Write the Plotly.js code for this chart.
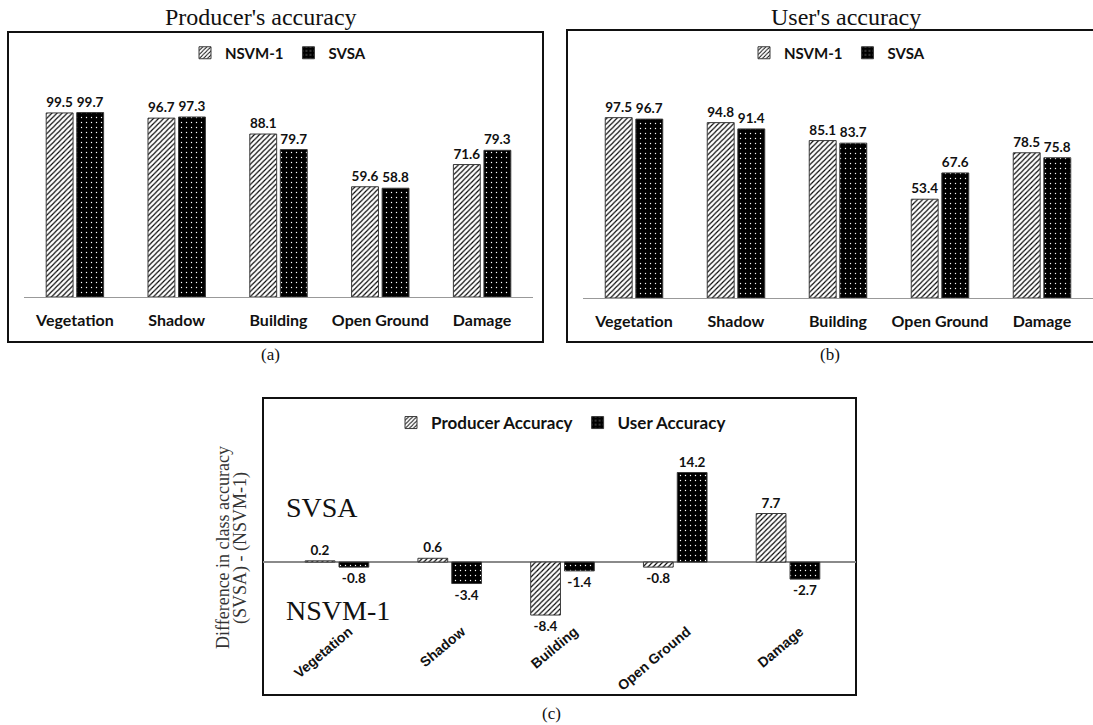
<!DOCTYPE html>
<html>
<head>
<meta charset="utf-8">
<script src="https://cdn.plot.ly/plotly-3.0.1.min.js"></script>
<style>html,body{margin:0;padding:0;background:#fff;}#chart{width:1093px;height:725px;}</style>
</head>
<body>
<div id="chart"></div>
<script>
// ---- data ----
var categories = ['Vegetation', 'Shadow', 'Building', 'Open Ground', 'Damage'];
var prodNSVM = [99.5, 96.7, 88.1, 59.6, 71.6];
var prodSVSA = [99.7, 97.3, 79.7, 58.8, 79.3];
var userNSVM = [97.5, 94.8, 85.1, 53.4, 78.5];
var userSVSA = [96.7, 91.4, 83.7, 67.6, 75.8];
var diffProducer = [0.2, 0.6, -8.4, -0.8, 7.7];
var diffUser = [-0.8, -3.4, -1.4, 14.2, -2.7];
var seriesAB = ['NSVM-1', 'SVSA'];
var seriesC = ['Producer Accuracy', 'User Accuracy'];

// ---- helpers ----
var W = 1093, H = 725;
function px(x) { return x / W; }
function py(y) { return 1 - y / H; }

var hatch = {shape: '/', bgcolor: '#ffffff', fgcolor: '#000000', size: 3.6, solidity: 0.32};
var dots = {shape: '.', bgcolor: '#000000', fgcolor: '#ffffff', size: 5, solidity: 0.06};
var valFont = {family: 'Lato, "Open Sans", sans-serif', size: 13.5, color: '#111', weight: 'bold'};

function bar(name, x, y, pattern, xa, ya, leg) {
  return {
    type: 'bar', name: name, x: x, y: y,
    xaxis: xa, yaxis: ya, legend: leg, showlegend: true,
    marker: {color: pattern.bgcolor, pattern: pattern, line: {color: '#3a3a3a', width: 1}},
    text: y.map(function (v) { return v.toFixed(1); }),
    textposition: 'outside', cliponaxis: false, constraintext: 'none',
    textfont: valFont, hoverinfo: 'skip'
  };
}

var data = [
  bar(seriesAB[0], categories, prodNSVM, hatch, 'x', 'y', 'legend'),
  bar(seriesAB[1], categories, prodSVSA, dots, 'x', 'y', 'legend'),
  bar(seriesAB[0], categories, userNSVM, hatch, 'x2', 'y2', 'legend2'),
  bar(seriesAB[1], categories, userSVSA, dots, 'x2', 'y2', 'legend2'),
  bar(seriesC[0], categories, diffProducer, hatch, 'x3', 'y3', 'legend3'),
  bar(seriesC[1], categories, diffUser, dots, 'x3', 'y3', 'legend3')
];

var catFont = {family: 'Lato, "Open Sans", sans-serif', size: 16, color: '#111', weight: 'bold'};
var legFont = {family: 'Lato, "Open Sans", sans-serif', size: 15, color: '#111', weight: 'bold'};
var serif = 'Liberation Serif, "Times New Roman", serif';

function xab(dom) {
  return {domain: dom, type: 'category', showline: true, linecolor: '#999', linewidth: 1,
    ticks: '', showgrid: false, zeroline: false, tickfont: catFont, ticklabelstandoff: 9, fixedrange: true};
}
function yab(dom) {
  return {domain: dom, range: [0, 117.3], showticklabels: false, showgrid: false, zeroline: false,
    showline: false, ticks: '', fixedrange: true};
}

var layout = {
  width: W, height: H,
  margin: {l: 0, r: 0, t: 0, b: 0},
  paper_bgcolor: '#ffffff', plot_bgcolor: 'rgba(0,0,0,0)',
  barmode: 'group', bargap: 0.4, bargroupgap: 0.12,
  xaxis: xab([px(24), px(533)]),
  yaxis: Object.assign(yab([py(297), py(80)]), {anchor: 'x'}),
  xaxis2: Object.assign(xab([px(583), 1]), {anchor: 'y2'}),
  yaxis2: Object.assign(yab([py(298), py(81)]), {anchor: 'x2'}),
  xaxis3: {domain: [px(263), px(856)], type: 'category', range: [-0.656, 4.603], anchor: 'free',
    position: py(620), showline: false, ticks: '', showgrid: false, zeroline: false, tickangle: -40,
    ticklabelshift: 12,
    tickfont: {family: 'Liberation Sans, Arial, sans-serif', size: 14, color: '#111', weight: 'bold'},
    fixedrange: true},
  yaxis3: {domain: [py(622), py(458)], range: [-9.5, 16.5], anchor: 'x3', showticklabels: false,
    showgrid: false, zeroline: true, zerolinecolor: '#8a8a8a', zerolinewidth: 1.2, showline: false,
    ticks: '', fixedrange: true},
  legend: {orientation: 'h', x: px(278), xanchor: 'center', y: py(53), yanchor: 'middle',
    font: legFont, bgcolor: 'rgba(0,0,0,0)', itemwidth: 30, traceorder: 'normal'},
  legend2: {orientation: 'h', x: px(837), xanchor: 'center', y: py(53), yanchor: 'middle',
    font: legFont, bgcolor: 'rgba(0,0,0,0)', itemwidth: 30, traceorder: 'normal'},
  legend3: {orientation: 'h', x: px(561), xanchor: 'center', y: py(423), yanchor: 'middle',
    font: {family: 'Lato, "Open Sans", sans-serif', size: 17, color: '#111', weight: 'bold'},
    bgcolor: 'rgba(0,0,0,0)', itemwidth: 30, traceorder: 'normal'},
  shapes: [
    {type: 'rect', xref: 'paper', yref: 'paper', x0: px(8), x1: px(543), y0: py(342), y1: py(32),
      line: {color: '#111', width: 2}, fillcolor: 'rgba(0,0,0,0)', layer: 'below'},
    {type: 'rect', xref: 'paper', yref: 'paper', x0: px(567), x1: 1.01, y0: py(342), y1: py(30),
      line: {color: '#111', width: 2}, fillcolor: 'rgba(0,0,0,0)', layer: 'below'},
    {type: 'rect', xref: 'paper', yref: 'paper', x0: px(263), x1: px(856), y0: py(695), y1: py(398),
      line: {color: '#111', width: 2}, fillcolor: 'rgba(0,0,0,0)', layer: 'below'}
  ],
  annotations: [
    {text: "Producer's accuracy", xref: 'paper', yref: 'paper', x: px(261), y: py(17),
      xanchor: 'center', yanchor: 'middle', showarrow: false, font: {family: serif, size: 24, color: '#111'}},
    {text: "User's accuracy", xref: 'paper', yref: 'paper', x: px(846), y: py(17),
      xanchor: 'center', yanchor: 'middle', showarrow: false, font: {family: serif, size: 24, color: '#111'}},
    {text: '(a)', xref: 'paper', yref: 'paper', x: px(270), y: py(354), xanchor: 'center', yanchor: 'middle',
      showarrow: false, font: {family: serif, size: 17, color: '#111'}},
    {text: '(b)', xref: 'paper', yref: 'paper', x: px(830), y: py(354), xanchor: 'center', yanchor: 'middle',
      showarrow: false, font: {family: serif, size: 17, color: '#111'}},
    {text: '(c)', xref: 'paper', yref: 'paper', x: px(551), y: py(713), xanchor: 'center', yanchor: 'middle',
      showarrow: false, font: {family: serif, size: 17, color: '#111'}},
    {text: 'SVSA', xref: 'paper', yref: 'paper', x: px(284), y: py(507), xanchor: 'left', yanchor: 'middle',
      showarrow: false, font: {family: serif, size: 28, color: '#111'}},
    {text: 'NSVM-1', xref: 'paper', yref: 'paper', x: px(284), y: py(610), xanchor: 'left', yanchor: 'middle',
      showarrow: false, font: {family: serif, size: 28, color: '#111'}},
    {text: 'Difference in class accuracy', xref: 'paper', yref: 'paper',
      x: px(223), y: py(548), xanchor: 'center', yanchor: 'middle', textangle: -90, showarrow: false,
      font: {family: serif, size: 18, color: '#333'}},
    {text: '(SVSA) - (NSVM-1)', xref: 'paper', yref: 'paper',
      x: px(240), y: py(548), xanchor: 'center', yanchor: 'middle', textangle: -90, showarrow: false,
      font: {family: serif, size: 18, color: '#333'}}
  ]
};

Plotly.newPlot('chart', data, layout, {staticPlot: true, displayModeBar: false});
</script>
</body>
</html>
